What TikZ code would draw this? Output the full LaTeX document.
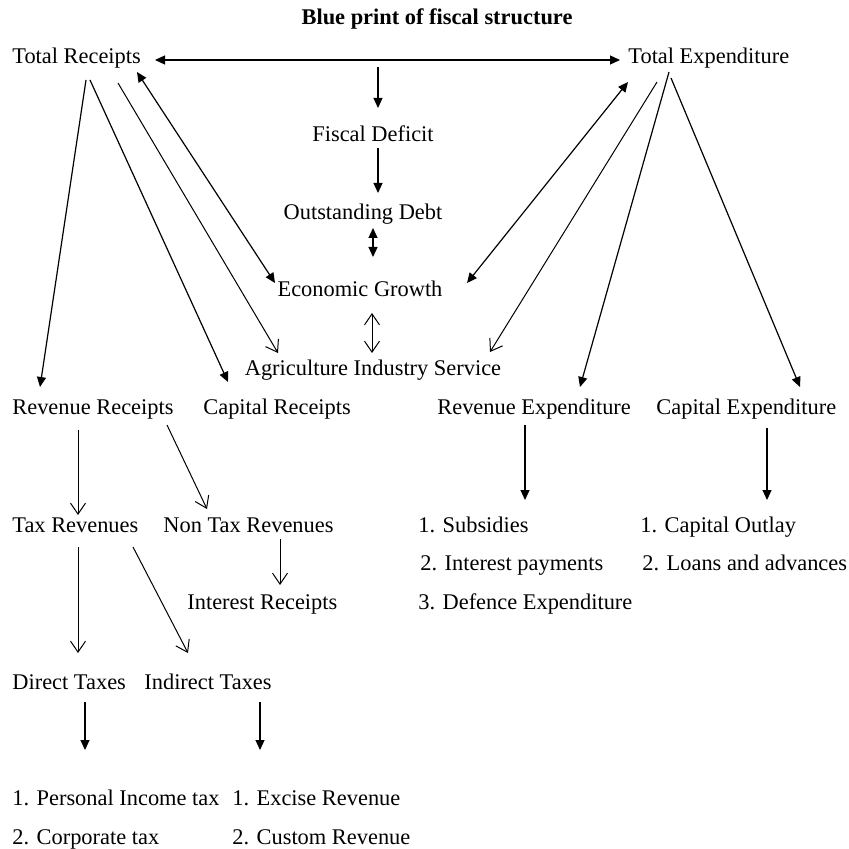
\documentclass[tikz,border=0pt]{standalone}
\usepackage{fontspec}
\setmainfont{Liberation Serif}
\usetikzlibrary{arrows.meta}
\tikzset{font={\fontsize{11.2pt}{13pt}\selectfont}}

\begin{document}
\begin{tikzpicture}[x=0.5pt,y=-0.5pt,
lbl/.style={inner sep=0pt,anchor=base west},
mid lbl/.style={inner sep=0pt,anchor=base},
solid head/.style={line width=0.6pt,-{Triangle[length=5pt,width=4.5pt]}},
both solid/.style={line width=0.6pt,{Triangle[length=5pt,width=4.5pt]}-{Triangle[length=5pt,width=4.5pt]}},
open head/.style={line width=0.5pt,-{Straight Barb[length=5.5pt,width=7.5pt]}},
both open/.style={line width=0.5pt,{Straight Barb[length=5.5pt,width=7.5pt]}-{Straight Barb[length=5.5pt,width=7.5pt]}}
]
\useasboundingbox (0,0) rectangle (848,849);

\node[mid lbl,font={\fontsize{11.2pt}{13pt}\selectfont\bfseries}] (title) at (437,25) {Blue print of fiscal structure};

% top level
\node[lbl] (tr) at (12,64) {Total Receipts};
\node[lbl] (te) at (628,64) {Total Expenditure};
\node[mid lbl] (fd) at (373,142) {Fiscal Deficit};
\node[mid lbl] (od) at (363,220) {Outstanding Debt};
\node[mid lbl] (eg) at (360,297) {Economic Growth};
\node[mid lbl] (ais) at (373,375) {Agriculture Industry Service};
\coordinate (gap) at (378,67);

% second level
\node[lbl] (rr) at (12,414) {Revenue Receipts};
\node[lbl] (cr) at (203,414) {Capital Receipts};
\node[lbl] (re) at (437,414) {Revenue Expenditure};
\node[lbl] (ce) at (656,414) {Capital Expenditure};

\node[lbl] (tx) at (12,532) {Tax Revenues};
\node[lbl] (ntx) at (163,532) {Non Tax Revenues};
\node[lbl] (ir) at (187,609) {Interest Receipts};

\node[lbl] (s1) at (418,532) {1. Subsidies};
\node[lbl] (s2) at (420,570) {2. Interest payments};
\node[lbl] (s3) at (418,609) {3. Defence Expenditure};
\node[lbl] (co) at (640,532) {1. Capital Outlay};
\node[lbl] (la) at (642,570) {2. Loans and advances};

\node[lbl] (dt) at (12,689) {Direct Taxes};
\node[lbl] (it) at (144,689) {Indirect Taxes};
\node[lbl] (p1) at (12,805) {1. Personal Income tax};
\node[lbl] (p2) at (12,844) {2. Corporate tax};
\node[lbl] (e1) at (232,805) {1. Excise Revenue};
\node[lbl] (e2) at (232,844) {2. Custom Revenue};

% connectors from the top
\draw[both solid] ([shift={(143,-4)}]tr.base west) -- ([shift={(-8,-4)}]te.base west);
\draw[solid head] (gap) -- ([shift={(5,-34)}]fd.base);
\draw[solid head] ([shift={(5,6)}]fd.base) -- ([shift={(15,-27)}]od.base);
\draw[both solid] ([shift={(10,8)}]od.base) -- ([shift={(13,-40)}]eg.base);
\draw[both open] ([shift={(12,16)}]eg.base) -- ([shift={(-1,-22)}]ais.base);

\draw[solid head] ([shift={(74,16)}]tr.base west) -- ([shift={(28,-27)}]rr.base west);
\draw[solid head] ([shift={(78,16)}]tr.base west) -- ([shift={(25,-32)}]cr.base west);
\draw[open head] ([shift={(106,19)}]tr.base west) -- ([shift={(-95,-22)}]ais.base);
\draw[both solid] ([shift={(125,8)}]tr.base west) -- ([shift={(-85,-14)}]eg.base);

\draw[both solid] ([shift={(0,18)}]te.base west) -- ([shift={(107,-14)}]eg.base);
\draw[open head] ([shift={(29,18)}]te.base west) -- ([shift={(117,-23)}]ais.base);
\draw[solid head] ([shift={(41,8)}]te.base west) -- ([shift={(143,-27)}]re.base west);
\draw[solid head] ([shift={(43,14)}]te.base west) -- ([shift={(144,-27)}]ce.base west);

% receipts side
\draw[open head] ([shift={(66,16)}]rr.base west) -- ([shift={(66,-17)}]tx.base west);
\draw[open head] ([shift={(155,11)}]rr.base west) -- ([shift={(44,-23)}]ntx.base west);
\draw[open head] ([shift={(117,7)}]ntx.base west) -- ([shift={(93,-24)}]ir.base west);
\draw[open head] ([shift={(66,15)}]tx.base west) -- ([shift={(66,-36)}]dt.base west);
\draw[open head] ([shift={(121,15)}]tx.base west) -- ([shift={(44,-36)}]it.base west);
\draw[solid head] ([shift={(73,13)}]dt.base west) -- ([shift={(73,-55)}]p1.base west);
\draw[solid head] ([shift={(116,13)}]it.base west) -- ([shift={(28,-55)}]e1.base west);

% expenditure side
\draw[solid head] ([shift={(88,11)}]re.base west) -- ([shift={(107,-32)}]s1.base west);
\draw[solid head] ([shift={(111,14)}]ce.base west) -- ([shift={(127,-32)}]co.base west);

\end{tikzpicture}
\end{document}
